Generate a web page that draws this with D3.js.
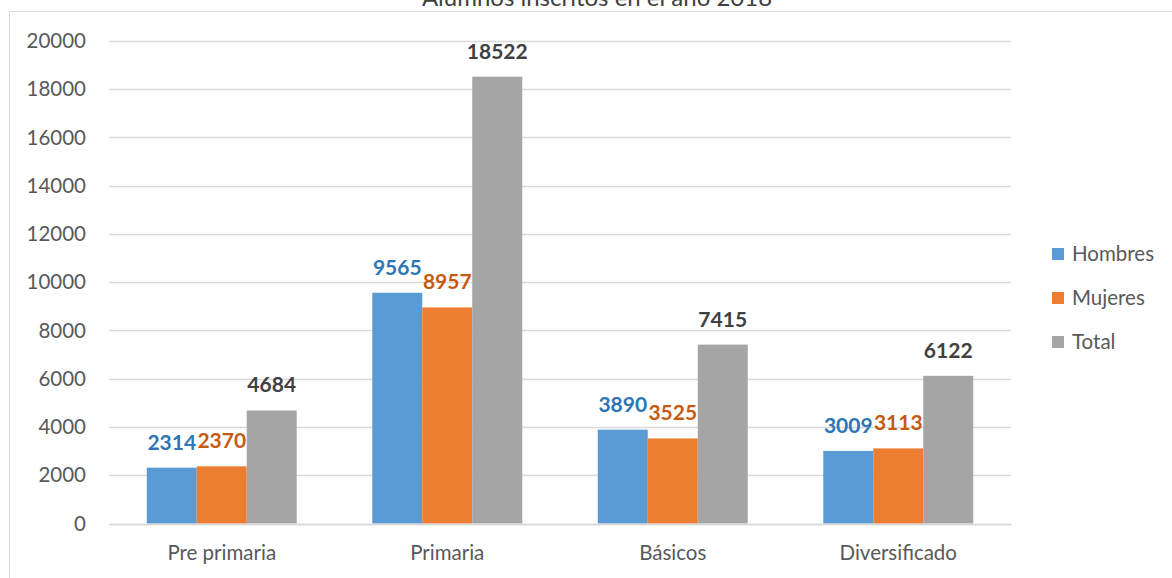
<!DOCTYPE html>
<html>
<head>
<meta charset="utf-8">
<script src="https://cdn.jsdelivr.net/npm/d3@7"></script>
<style>
  body { margin: 0; background: #fff; }
  svg { display: block; font-family: Lato, "Open Sans", sans-serif; }
</style>
</head>
<body>
<svg id="chart"></svg>
<script>
const categories = ["Pre primaria", "Primaria", "Básicos", "Diversificado"];
const seriesNames = ["Hombres", "Mujeres", "Total"];
const hombres = [2314, 9565, 3890, 3009];
const mujeres = [2370, 8957, 3525, 3113];
const total = [4684, 18522, 7415, 6122];
const yTicks = [0, 2000, 4000, 6000, 8000, 10000, 12000, 14000, 16000, 18000, 20000];

const width = 1172;
const height = 578;
const margin = { top: 41, right: 161, bottom: 54, left: 109 };

const barColors = ["#5b9bd5", "#ed7d31", "#a5a5a5"];
const labelColors = ["#2e75b6", "#c55a11", "#404040"];

const seriesValues = [hombres, mujeres, total];

const svg = d3.select("#chart")
  .attr("width", width)
  .attr("height", height);

// chart frame
svg.append("rect")
  .attr("x", 9.5)
  .attr("y", 11.5)
  .attr("width", width)
  .attr("height", height)
  .attr("fill", "#fff")
  .attr("stroke", "#d9d9d9")
  .attr("stroke-width", 1);

svg.append("text")
  .attr("x", 597)
  .attr("y", 6)
  .attr("text-anchor", "middle")
  .attr("font-size", 24)
  .attr("fill", "#404040")
  .text("Alumnos inscritos en el año 2018");

const x0 = d3.scaleBand()
  .domain(categories)
  .range([margin.left, width - margin.right])
  .paddingInner(0.335)
  .paddingOuter(0.1675);

const x1 = d3.scaleBand()
  .domain(seriesNames)
  .range([0, x0.bandwidth()]);

const y = d3.scaleLinear()
  .domain([0, 20000])
  .range([height - margin.bottom - 0.5, margin.top]);

// gridlines
svg.append("g")
  .selectAll("line")
  .data(yTicks)
  .join("line")
  .attr("x1", margin.left)
  .attr("x2", width - margin.right)
  .attr("y1", d => Math.round(y(d)) + 0.5)
  .attr("y2", d => Math.round(y(d)) + 0.5)
  .attr("stroke", "#d9d9d9")
  .attr("stroke-width", 1.3);

// y axis labels
const yAxis = svg.append("g")
  .attr("transform", `translate(${margin.left - 23},0)`)
  .call(d3.axisLeft(y).tickValues(yTicks).tickFormat(d3.format("d")).tickSize(0).tickPadding(0));
yAxis.select(".domain").remove();
yAxis.selectAll("text")
  .attr("font-family", "Lato, sans-serif")
  .attr("font-size", 20.5)
  .attr("fill", "#595959");

// bars
const groups = svg.append("g")
  .selectAll("g")
  .data(categories)
  .join("g")
  .attr("transform", d => `translate(${x0(d)},0)`);

groups.selectAll("rect")
  .data((c, i) => seriesNames.map((s, j) => ({ s, j, v: seriesValues[j][i] })))
  .join("rect")
  .attr("x", d => x1(d.s))
  .attr("width", x1.bandwidth())
  .attr("y", d => y(d.v))
  .attr("height", d => y(0) - y(d.v))
  .attr("fill", d => barColors[d.j]);

groups.selectAll("text")
  .data((c, i) => seriesNames.map((s, j) => ({ s, j, v: seriesValues[j][i] })))
  .join("text")
  .attr("x", d => x1(d.s) + x1.bandwidth() / 2)
  .attr("y", d => y(d.v) - 18)
  .attr("text-anchor", "middle")
  .attr("font-size", 21)
  .attr("font-weight", "bold")
  .attr("fill", d => labelColors[d.j])
  .text(d => d.v);

// x axis
const xAxis = svg.append("g")
  .attr("transform", `translate(0,${height - margin.bottom})`)
  .call(d3.axisBottom(x0).tickSize(0).tickPadding(21));
xAxis.select(".domain")
  .attr("stroke", "#d9d9d9")
  .attr("stroke-width", 1.3);
xAxis.selectAll("text")
  .attr("font-family", "Lato, sans-serif")
  .attr("font-size", 20.5)
  .attr("fill", "#595959");

// legend
const legend = svg.append("g")
  .selectAll("g")
  .data(seriesNames)
  .join("g")
  .attr("transform", (d, i) => `translate(1052,${248 + i * 44})`);

legend.append("rect")
  .attr("width", 12)
  .attr("height", 12)
  .attr("fill", (d, i) => barColors[i]);

legend.append("text")
  .attr("x", 20)
  .attr("y", 13)
  .attr("font-size", 20.5)
  .attr("fill", "#595959")
  .text(d => d);
</script>
</body>
</html>
